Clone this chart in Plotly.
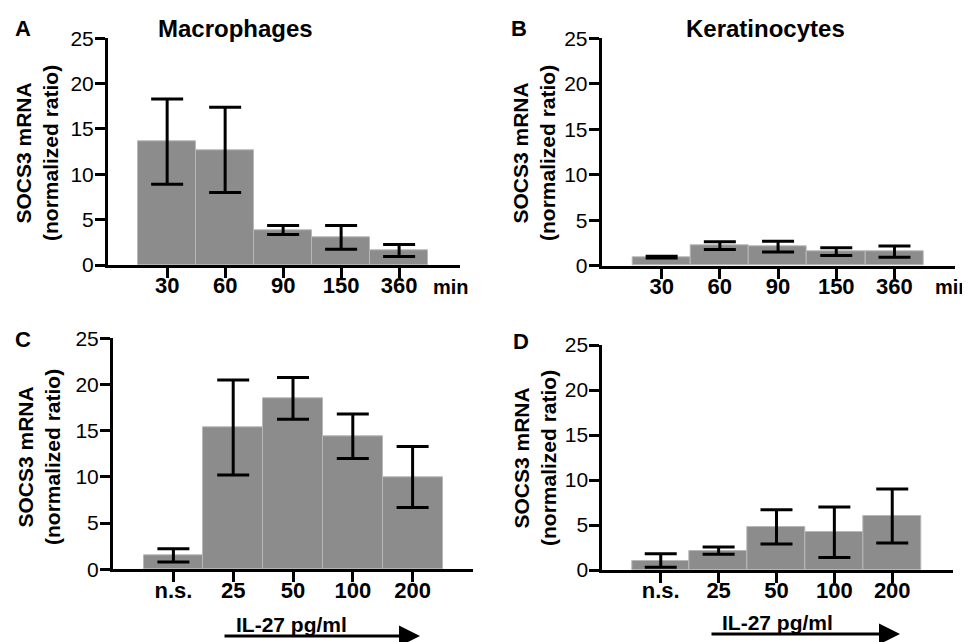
import plotly.graph_objects as go

# ---- data ----
time_labels = ["30", "60", "90", "150", "360"]
dose_labels = ["n.s.", "25", "50", "100", "200"]

mac_time = [13.6, 12.7, 3.85, 3.05, 1.6]
mac_time_err = [4.7, 4.7, 0.5, 1.3, 0.65]
ker_time = [0.95, 2.2, 2.1, 1.55, 1.55]
ker_time_err = [0.1, 0.42, 0.6, 0.42, 0.62]
mac_dose = [1.5, 15.35, 18.5, 14.4, 10.0]
mac_dose_err = [0.72, 5.15, 2.25, 2.4, 3.3]
ker_dose = [1.05, 2.15, 4.8, 4.2, 6.0]
ker_dose_err = [0.75, 0.4, 1.9, 2.8, 3.0]

y_ticks = [0, 5, 10, 15, 20, 25]

W, H = 970, 642
OFF = 8  # page body margin offset in px
FONT = "Liberation Sans, Arial, sans-serif"
BAR_COLOR = "#8c8c8c"


def px(x):
    return (x - OFF) / W


def py(y):
    return 1 - (y - OFF) / H


panels = [
    # labels, values, errors, x-domain px, y-domain px (top, bottom), x-range
    (time_labels, mac_time, mac_time_err, (108, 460), (38.3, 265), (-1.02, 5.05)),
    (time_labels, ker_time, ker_time_err, (601.7, 955), (38.3, 265.7), (-1.03, 5.04)),
    (dose_labels, mac_dose, mac_dose_err, (113, 473), (338.3, 569.3), (-1.01, 5.01)),
    (dose_labels, ker_dose, ker_dose_err, (602.3, 953), (345, 570), (-1.01, 5.05)),
]

fig = go.Figure()
layout = {}
for i, (labels, vals, errs, xd, yd, xr) in enumerate(panels, start=1):
    xa = "x" if i == 1 else f"x{i}"
    ya = "y" if i == 1 else f"y{i}"
    fig.add_trace(go.Bar(
        x=labels, y=vals,
        marker=dict(color=BAR_COLOR, line=dict(color="#b8b8b8", width=1)),
        error_y=dict(type="data", array=errs, color="black", thickness=3, width=16),
        xaxis=xa, yaxis=ya, showlegend=False,
    ))
    xkey = "xaxis" if i == 1 else f"xaxis{i}"
    ykey = "yaxis" if i == 1 else f"yaxis{i}"
    layout[xkey] = dict(
        domain=[px(xd[0]), px(xd[1])], anchor=ya, type="category",
        categoryorder="array", categoryarray=labels, range=list(xr),
        showline=True, linecolor="black", linewidth=3,
        ticks="outside", ticklen=10, tickwidth=3, tickcolor="black",
        showgrid=False, zeroline=False, automargin=False,
        ticklabelstandoff=-11,
        tickfont=dict(family=FONT, size=22, color="black", weight="bold"),
    )
    layout[ykey] = dict(
        domain=[py(yd[1]), py(yd[0])], anchor=xa, range=[0, 25],
        tickmode="array", tickvals=y_ticks,
        showline=True, linecolor="black", linewidth=3,
        ticks="outside", ticklen=10, tickwidth=3, tickcolor="black",
        showgrid=False, zeroline=False, automargin=False,
        ticklabelstandoff=-3,
        tickfont=dict(family=FONT, size=21, color="black"),
    )

annotations = []


def text(t, x, y, size=21, xanchor="center", yanchor="middle", angle=0, bold=True):
    annotations.append(dict(
        text=t, x=px(x), y=py(y), xref="paper", yref="paper",
        xanchor=xanchor, yanchor=yanchor, showarrow=False, textangle=angle,
        font=dict(family=FONT, size=size, color="black", weight="bold" if bold else "normal"),
    ))


# panel letters
text("A", 22.5, 29, size=22)
text("B", 519, 29, size=22)
text("C", 23.5, 340, size=22)
text("D", 520.5, 341, size=22)
# titles
text("Macrophages", 235.5, 28, size=24)
text("Keratinocytes", 765, 28, size=24)
# y titles
ytitle = "SOCS3 mRNA<br>(normalized ratio)"
text(ytitle, 37, 153, angle=-90)
text(ytitle, 534, 153, angle=-90)
text(ytitle, 39, 457, angle=-90)
text(ytitle, 535, 458, angle=-90)
# min labels
text("min", 451, 287, size=20)
text("min", 933, 287, size=20, xanchor="left")
# IL-27 labels
text("IL-27 pg/ml", 291, 624, size=21)
text("IL-27 pg/ml", 777, 622, size=21)

# arrows
for x0, x1, yv in [(223, 420, 636), (710, 900, 634)]:
    annotations.append(dict(
        x=px(x1), y=py(yv), xref="paper", yref="paper",
        ax=-(x1 - x0), ay=0, axref="pixel", ayref="pixel",
        showarrow=True, arrowhead=2, arrowsize=1.4, arrowwidth=3,
        arrowcolor="black", text="",
    ))

fig.update_layout(
    width=W, height=H,
    margin=dict(l=0, r=0, t=0, b=0, autoexpand=False),
    paper_bgcolor="white", plot_bgcolor="white",
    bargap=0,
    annotations=annotations,
    **layout,
)

fig.write_html("out.html")
